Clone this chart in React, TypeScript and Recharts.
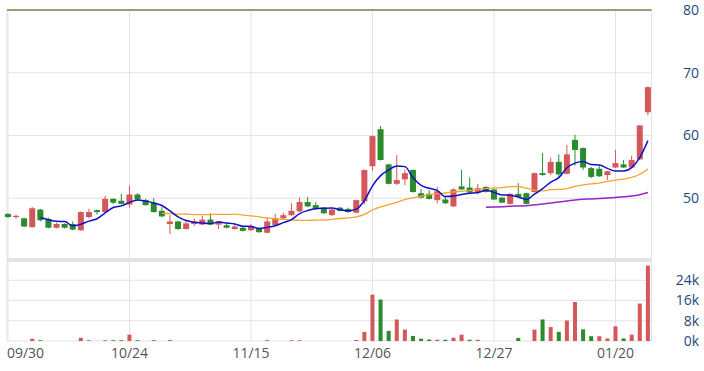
import React from 'react';
import { ComposedChart, Bar, Line, XAxis, YAxis, CartesianGrid, ReferenceLine } from 'recharts';

const dates = [
  '09/30', '10/01', '10/04', '10/07', '10/08', '10/09', '10/11', '10/14', '10/15', '10/16',
  '10/17', '10/18', '10/21', '10/22', '10/23', '10/24', '10/25', '10/28', '10/29', '10/30',
  '11/01', '11/04', '11/05', '11/06', '11/07', '11/08', '11/11', '11/12', '11/13', '11/14',
  '11/15', '11/18', '11/19', '11/20', '11/21', '11/22', '11/25', '11/26', '11/27', '11/28',
  '11/29', '12/02', '12/03', '12/04', '12/05', '12/06', '12/09', '12/10', '12/11', '12/12',
  '12/13', '12/16', '12/17', '12/18', '12/19', '12/20', '12/23', '12/24', '12/25', '12/26',
  '12/27', '12/30', '12/31', '01/02', '01/03', '01/06', '01/07', '01/08', '01/09', '01/10',
  '01/13', '01/14', '01/15', '01/16', '01/17', '01/20', '01/21', '01/22', '01/23', '01/24',
];

const opens = [
  47.5, 47.0, 46.8, 45.4, 48.2, 46.7, 45.3, 45.9, 45.9, 44.9,
  47.0, 48.1, 47.8, 49.9, 49.6, 49.0, 50.6, 49.7, 49.3, 48.0,
  45.9, 46.3, 45.1, 45.9, 45.8, 46.6, 45.8, 45.7, 45.1, 45.3,
  44.9, 45.2, 44.5, 45.7, 46.8, 47.3, 47.9, 49.4, 48.9, 48.5,
  47.3, 48.5, 48.3, 47.7, 49.5, 55.1, 61.0, 55.4, 52.3, 53.0,
  54.5, 50.8, 50.7, 49.7, 49.8, 48.7, 51.9, 51.7, 51.0, 51.8,
  51.4, 50.1, 49.1, 50.7, 50.8, 51.0, 54.0, 54.0, 55.8, 53.9,
  59.3, 58.0, 54.8, 54.7, 53.7, 54.9, 55.4, 54.9, 56.2, 63.7,
];

const highs = [
  47.6, 47.4, 46.9, 48.6, 48.3, 46.9, 46.1, 46.0, 46.3, 47.9,
  48.3, 48.2, 50.4, 50.0, 50.7, 52.0, 50.8, 49.9, 50.0, 48.6,
  47.3, 46.4, 46.5, 46.8, 47.2, 47.6, 46.4, 46.0, 45.9, 45.5,
  45.9, 45.3, 47.0, 47.5, 47.7, 49.2, 50.1, 50.2, 49.4, 48.6,
  48.3, 48.6, 48.5, 49.8, 54.6, 60.0, 61.5, 55.5, 56.9, 54.6,
  54.6, 51.5, 51.3, 51.8, 50.4, 51.6, 54.5, 53.3, 52.3, 51.9,
  51.5, 50.2, 50.8, 52.4, 50.9, 54.1, 57.2, 56.5, 57.0, 58.5,
  60.1, 58.1, 55.0, 55.3, 54.4, 57.7, 56.1, 56.8, 61.7, 67.8,
];

const lows = [
  46.9, 46.7, 45.4, 45.3, 46.3, 45.2, 45.2, 45.2, 44.9, 44.8,
  46.8, 47.4, 47.7, 49.1, 49.0, 48.5, 49.7, 48.8, 47.7, 47.0,
  44.3, 45.0, 45.0, 45.6, 45.7, 45.7, 45.1, 45.2, 45.0, 44.7,
  44.8, 44.5, 44.4, 45.6, 46.6, 47.2, 47.8, 48.6, 48.2, 47.5,
  47.2, 47.9, 47.7, 47.6, 49.0, 54.4, 56.0, 52.2, 52.1, 52.1,
  50.9, 50.0, 49.8, 49.2, 49.1, 48.6, 51.3, 50.8, 50.6, 50.9,
  49.7, 49.2, 49.0, 50.1, 49.0, 50.9, 53.6, 53.7, 53.3, 53.8,
  55.2, 54.5, 53.2, 53.4, 52.9, 54.8, 54.8, 54.8, 56.1, 63.2,
];

const closes = [
  47.0, 47.2, 45.5, 48.4, 46.5, 45.3, 45.9, 45.3, 45.0, 47.8,
  47.8, 47.8, 49.9, 49.3, 49.1, 50.6, 49.8, 48.9, 47.8, 47.1,
  46.3, 45.1, 46.0, 46.3, 46.6, 45.8, 46.3, 45.3, 45.5, 44.8,
  45.6, 44.6, 46.3, 46.8, 47.3, 48.0, 49.4, 48.7, 48.3, 47.6,
  48.2, 48.0, 47.8, 49.7, 54.5, 59.9, 56.1, 52.3, 52.9, 54.0,
  51.0, 50.1, 49.9, 51.1, 49.2, 51.4, 51.4, 50.9, 51.6, 51.0,
  49.8, 49.3, 50.7, 50.2, 49.1, 54.0, 53.7, 55.8, 53.8, 57.0,
  57.7, 54.9, 53.4, 53.5, 54.3, 55.6, 54.9, 56.1, 61.6, 67.7,
];

// volume in thousands
const volumes = [
  0, 0, 0, 0.9, 0.3, 0, 0, 0, 0, 1.3,
  0.3, 0, 0.3, 0.3, 0.3, 2.5, 0.3, 0, 0.3, 0,
  0.3, 0, 0, 0, 0, 0, 0, 0, 0, 0,
  0, 0, 0.3, 0, 0, 0.3, 0.3, 0, 0, 0,
  0, 0, 0, 0.4, 3.6, 18.3, 16.4, 4.0, 8.5, 4.5,
  2.0, 0.9, 0.6, 0.5, 0.5, 1.3, 2.5, 0.5, 0.5, 0,
  0, 0, 0, 1.2, 0, 4.5, 8.5, 5.5, 3.6, 8.1,
  15.4, 4.6, 1.9, 1.9, 1.0, 5.8, 1.0, 2.5, 14.8, 29.8,
];

const ma5Start = 4;
const ma5 = [
  46.92, 46.58, 46.32, 46.28, 45.60, 45.86, 46.36, 46.74, 47.66, 48.52,
  48.78, 49.34, 49.74, 49.54, 49.24, 48.84, 47.98, 47.04, 46.46, 46.16,
  46.06, 45.96, 46.20, 46.06, 45.90, 45.54, 45.50, 45.16, 45.36, 45.62,
  46.12, 46.60, 47.56, 48.04, 48.34, 48.40, 48.44, 48.16, 47.98, 48.26,
  49.64, 51.98, 53.60, 54.50, 55.14, 55.04, 53.26, 52.06, 51.58, 51.22,
  50.26, 50.34, 50.60, 50.80, 50.90, 51.26, 50.94, 50.52, 50.48, 50.20,
  49.82, 50.66, 51.54, 52.56, 53.28, 54.86, 55.60, 55.84, 55.36, 55.30,
  54.76, 54.34, 54.34, 54.88, 56.50, 59.18,
];

const ma20Start = 19;
const ma20 = [
  47.60, 47.57, 47.46, 47.49, 47.38, 47.39, 47.41, 47.43, 47.43, 47.46,
  47.31, 47.20, 47.04, 46.86, 46.73, 46.64, 46.51, 46.49, 46.48, 46.51,
  46.53, 46.63, 46.77, 46.86, 47.03, 47.43, 48.13, 48.62, 48.97, 49.34,
  49.80, 50.07, 50.35, 50.53, 50.74, 50.84, 51.01, 51.11, 51.22, 51.38,
  51.55, 51.63, 51.70, 51.84, 51.87, 51.60, 51.30, 51.18, 51.36, 51.40,
  51.55, 51.89, 52.13, 52.30, 52.42, 52.68, 52.89, 53.06, 53.32, 53.82,
  54.66,
];

const ma60Start = 59;
const ma60 = [
  48.56, 48.61, 48.64, 48.73, 48.76, 48.80, 48.95, 49.08, 49.25, 49.40,
  49.55, 49.72, 49.84, 49.89, 49.96, 50.05, 50.13, 50.22, 50.34, 50.57,
  50.91,
];

const xTickIdx = [0, 15, 30, 45, 60, 75];
const priceTicks = [50, 60, 70, 80];
const volTicks = [0, 8, 16, 24];

const UP = '#d4585a';
const DOWN = '#2b8a2b';
const GRID = '#e3e3e3';
const FONT = '"Open Sans", "DejaVu Sans", sans-serif';

const pick = (arr: number[], start: number, i: number) =>
  i >= start && i - start < arr.length ? arr[i - start] : null;

const data = dates.map((d, i) => ({
  i,
  date: d,
  open: opens[i],
  high: highs[i],
  low: lows[i],
  close: closes[i],
  vol: volumes[i],
  volUp: i === 0 ? closes[i] >= opens[i] : closes[i] >= closes[i - 1],
  ma5: pick(ma5, ma5Start, i),
  ma20: pick(ma20, ma20Start, i),
  ma60: pick(ma60, ma60Start, i),
}));

const Candle = (props: any) => {
  const { x, y, width, height, payload } = props;
  if (!payload || x == null || y == null) return null;
  const { open, close, high, low } = payload;
  const top = Math.min(y, y + height);
  const h = Math.abs(height);
  const ratio = high - low > 0 ? h / (high - low) : 0;
  const cx = x + width / 2;
  const yOf = (v: number) => top + (high - v) * ratio;
  const color = close >= open ? UP : DOWN;
  const bTop = yOf(Math.max(open, close));
  const bBot = yOf(Math.min(open, close));
  return (
    <g>
      <line x1={cx} x2={cx} y1={top} y2={top + h} stroke={color} strokeWidth={1} />
      <rect x={cx - width / 2} y={bTop} width={width} height={Math.max(1, bBot - bTop)} fill={color} />
    </g>
  );
};

const VolBar = (props: any) => {
  const { x, y, width, height, payload } = props;
  if (!payload || !height || height <= 0) return null;
  return <rect x={x} y={y} width={width} height={height} fill={payload.volUp ? UP : DOWN} />;
};

const XTick = (props: any) => {
  const { x, y, payload } = props;
  const idx = payload.value;
  return (
    <text
      x={x}
      y={y}
      dx={idx === 0 ? -1 : 0}
      dy={9}
      textAnchor={idx === 0 ? 'start' : 'middle'}
      fill="#555"
      fontSize={14}
      fontFamily={FONT}
    >
      {dates[idx]}
    </text>
  );
};

const RightTick = (suffix: string) => (props: any) => {
  const { x, y, payload } = props;
  return (
    <text
      x={x + 39.5}
      y={y}
      dy="0.35em"
      textAnchor="end"
      fill="#1f4a7c"
      fontSize={14}
      fontFamily={FONT}
    >
      {`${payload.value}${suffix}`}
    </text>
  );
};

const PriceTick = RightTick('');
const VolTick = RightTick('k');

export default function App() {
  return (
    <div style={{ position: 'absolute', left: 0, top: 0, width: 704, height: 371, background: '#fff', fontFamily: FONT }}>
      <div style={{ position: 'absolute', left: 0, top: 0 }}>
        <ComposedChart width={704} height={261} data={data} margin={{ top: 10, right: 0, left: 7, bottom: 0 }}>
          <CartesianGrid stroke={GRID} strokeWidth={1} />
          <XAxis
            type="number"
            dataKey="i"
            domain={[-0.12, 79.44]}
            ticks={xTickIdx}
            hide
          />
          <YAxis
            orientation="right"
            width={52.5}
            domain={[40, 80]}
            ticks={priceTicks}
            interval={0}
            axisLine={false}
            tickLine={false}
            tick={<PriceTick />}
          />
          <ReferenceLine y={80} stroke="#a19c78" strokeWidth={2} />
          <Bar dataKey={(d: any) => [d.low, d.high]} barSize={6} shape={(p: any) => <Candle {...p} />} isAnimationActive={false} />
          <Line type="monotone" dataKey="ma60" stroke="#9a22c4" strokeWidth={1.5} dot={false} activeDot={false} isAnimationActive={false} />
          <Line type="monotone" dataKey="ma20" stroke="#f3a52e" strokeWidth={1.3} dot={false} activeDot={false} isAnimationActive={false} />
          <Line type="monotone" dataKey="ma5" stroke="#1010c8" strokeWidth={1.5} dot={false} activeDot={false} isAnimationActive={false} />
        </ComposedChart>
      </div>
      <div style={{ position: 'absolute', left: 0, top: 0 }}>
        <ComposedChart width={704} height={371} data={data} margin={{ top: 260, right: 0, left: 7, bottom: 0 }}>
          <CartesianGrid stroke={GRID} strokeWidth={1} />
          <XAxis
            type="number"
            dataKey="i"
            domain={[-0.12, 79.44]}
            ticks={xTickIdx}
            interval={0}
            height={30}
            axisLine={false}
            tickLine={false}
            tick={<XTick />}
          />
          <YAxis
            orientation="right"
            width={52.5}
            domain={[0, 32]}
            ticks={volTicks}
            interval={0}
            axisLine={false}
            tickLine={false}
            tick={<VolTick />}
          />
          <ReferenceLine y={32} stroke="#e3e3e3" strokeWidth={4} />
          <Bar dataKey="vol" barSize={4} shape={(p: any) => <VolBar {...p} />} isAnimationActive={false} />
        </ComposedChart>
      </div>
    </div>
  );
}
